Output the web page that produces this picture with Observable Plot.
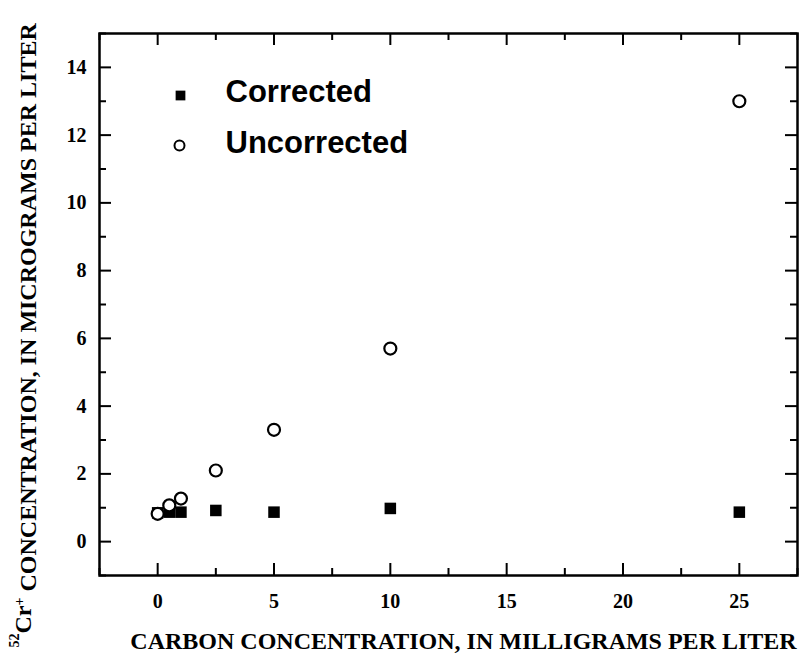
<!DOCTYPE html>
<html><head><meta charset="utf-8">
<script src="https://cdn.jsdelivr.net/npm/d3@7"></script>
<script src="https://cdn.jsdelivr.net/npm/@observablehq/plot@0.6"></script>
<style>body{margin:0;background:#fff}</style>
</head><body><div id="chart"></div>
<script>
const carbon = [0, 0.5, 1, 2.5, 5, 10, 25];
const corrected = [0.85, 0.87, 0.87, 0.92, 0.87, 0.98, 0.87];
const uncorrected = [0.82, 1.07, 1.27, 2.1, 3.3, 5.7, 13.0];
const xMajor = [0, 5, 10, 15, 20, 25];
const xMinor = [-2.5, 2.5, 7.5, 12.5, 17.5, 22.5, 27.5];
const yMajor = [0, 2, 4, 6, 8, 10, 12, 14];
const yMinor = [-1, 1, 3, 5, 7, 9, 11, 13, 15];
const seriesNames = ["Corrected", "Uncorrected"];
const xLabel = "CARBON CONCENTRATION, IN MILLIGRAMS PER LITER";
const yLabel = "Cr CONCENTRATION, IN MICROGRAMS PER LITER";

const W = 799, H = 658, mt = 33, mr = 2, mb = 83, ml = 99;
const fh = H - mt - mb, fw = W - ml - mr;
const corrData = carbon.map((x, i) => ({x, y: corrected[i]}));
const uncData = carbon.map((x, i) => ({x, y: uncorrected[i]}));

const serif = "'Liberation Serif', 'Times New Roman', serif";
const sans = "'Liberation Sans', Arial, sans-serif";
const chart = Plot.plot({
  width: W, height: H,
  marginTop: mt, marginRight: mr, marginBottom: mb, marginLeft: ml,
  style: {fontFamily: serif, background: "#fff"},
  x: {domain: [-2.5, 27.5]},
  y: {domain: [-1, 15]},
  marks: [
    Plot.axisX({ticks: xMajor, tickSize: 0, tickPadding: 18, fontSize: 20, fontWeight: "bold", label: null, fill: "#000"}),
    Plot.axisY({ticks: yMajor, tickSize: 0, tickPadding: 13, fontSize: 20, fontWeight: "bold", label: null, fill: "#000"}),
    Plot.ruleX(xMajor, {insetTop: fh - 12, stroke: "#000", strokeWidth: 2}),
    Plot.ruleX(xMinor, {insetTop: fh - 7, stroke: "#000", strokeWidth: 2}),
    Plot.ruleX(xMajor, {insetBottom: fh - 12, stroke: "#000", strokeWidth: 2}),
    Plot.ruleX(xMinor, {insetBottom: fh - 7, stroke: "#000", strokeWidth: 2}),
    Plot.ruleY(yMajor, {insetRight: fw - 12, stroke: "#000", strokeWidth: 2}),
    Plot.ruleY(yMinor, {insetRight: fw - 7, stroke: "#000", strokeWidth: 2}),
    Plot.ruleY(yMajor, {insetLeft: fw - 12, stroke: "#000", strokeWidth: 2}),
    Plot.ruleY(yMinor, {insetLeft: fw - 7, stroke: "#000", strokeWidth: 2}),
    Plot.frame({stroke: "#000", strokeWidth: 2.5}),
    Plot.dot(corrData, {x: "x", y: "y", symbol: "square", r: 6.5, fill: "#000", stroke: "none"}),
    Plot.dot(uncData, {x: "x", y: "y", symbol: "circle", r: 6, fill: "#fff", stroke: "#000", strokeWidth: 2.2}),
    // legend
    Plot.dot([seriesNames[0]], {frameAnchor: "top-left", dx: 81, dy: 62, symbol: "square", r: 5.5, fill: "#000"}),
    Plot.dot([seriesNames[1]], {frameAnchor: "top-left", dx: 80, dy: 112, symbol: "circle", r: 5, fill: "#fff", stroke: "#000", strokeWidth: 2}),
    Plot.text([seriesNames[0]], {text: d => d, frameAnchor: "top-left", dx: 126, dy: 59, textAnchor: "start", lineAnchor: "middle", fontSize: 31, fontWeight: "bold", fontFamily: sans, fill: "#000"}),
    Plot.text([seriesNames[1]], {text: d => d, frameAnchor: "top-left", dx: 126, dy: 110, textAnchor: "start", lineAnchor: "middle", fontSize: 31, fontWeight: "bold", fontFamily: sans, fill: "#000"}),
    // axis titles
    Plot.text([xLabel], {text: d => d, frameAnchor: "bottom", dx: 15, dy: 66, lineAnchor: "middle", fontSize: 24, fontWeight: "bold", fill: "#000"}),
    Plot.text([yLabel], {text: d => d, frameAnchor: "left", dx: -81, dy: 343, rotate: -90, textAnchor: "start", lineAnchor: "middle", fontSize: 24, fontWeight: "bold", fill: "#000", className: "ylab"})
  ]
});
document.getElementById("chart").append(chart);
// add superscripts to the y label
const t = d3.select(chart).select(".ylab text");
if (!t.empty()) {
  const rest = t.text();
  t.text(null);
  t.append("tspan").attr("font-size", 14).attr("dy", "-0.5em").text("52");
  t.append("tspan").attr("dy", "0.5em").text("Cr");
  t.append("tspan").attr("font-size", 14).attr("dy", "-0.5em").text("+");
  t.append("tspan").attr("dy", "0.5em").text(" " + rest.slice(3));
}
</script></body></html>
